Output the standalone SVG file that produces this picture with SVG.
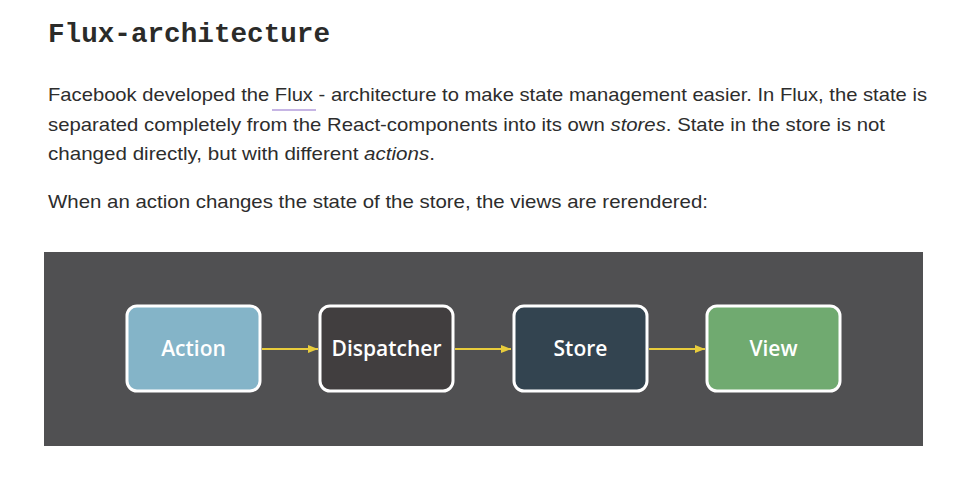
<svg xmlns="http://www.w3.org/2000/svg" width="972" height="484" viewBox="0 0 972 484">
<defs>
<style>
.title{font-family:"Liberation Mono","DejaVu Sans Mono",monospace;font-weight:bold;font-size:27px;fill:#2b2b29}
.body{font-family:"Liberation Sans","Noto Sans",sans-serif;font-size:19px;fill:#2d2d2d}
.it{font-style:italic}
.box{stroke:#ffffff;stroke-width:3}
.lbl{font-family:"Open Sans","Noto Sans",sans-serif;font-weight:600;font-size:21px;fill:#ffffff;text-anchor:middle}
.conn{stroke:#e8cc3c;stroke-width:2;fill:none}
</style>
<marker id="ah" viewBox="0 0 10 10" refX="10" refY="5" markerWidth="10" markerHeight="10" markerUnits="userSpaceOnUse" orient="auto">
<path d="M0,1 L10,5 L0,9 z" fill="#e8cc3c"/>
</marker>
</defs>
<rect width="972" height="484" fill="#ffffff"/>
<text class="title" x="48" y="42" textLength="282" lengthAdjust="spacingAndGlyphs">Flux-architecture</text>
<text class="body" x="48" y="101" textLength="879" lengthAdjust="spacingAndGlyphs">Facebook developed the  Flux - architecture to make state management easier. In Flux, the state is</text>
<line x1="272" y1="110" x2="316" y2="110" stroke="#b39ddb" stroke-width="1.5"/>
<text class="body" x="48" y="131" textLength="837" lengthAdjust="spacingAndGlyphs">separated completely from the React-components into its own <tspan class="it">stores</tspan>. State in the store is not</text>
<text class="body" x="48" y="160" textLength="387" lengthAdjust="spacingAndGlyphs">changed directly, but with different <tspan class="it">actions</tspan>.</text>
<text class="body" x="48" y="208" textLength="660" lengthAdjust="spacingAndGlyphs">When an action changes the state of the store, the views are rerendered:</text>
<rect x="44" y="252" width="879" height="194" fill="#505052"/>
<g id="connectors">
<line class="conn" x1="262" y1="349" x2="318" y2="349" marker-end="url(#ah)"/>
<line class="conn" x1="455" y1="349" x2="511" y2="349" marker-end="url(#ah)"/>
<line class="conn" x1="649" y1="349" x2="705" y2="349" marker-end="url(#ah)"/>
</g>
<g id="action">
<rect class="box" x="127" y="306" width="133" height="85" rx="10" fill="#84b4c8"/>
<text class="lbl" x="193.5" y="356">Action</text>
</g>
<g id="dispatcher">
<rect class="box" x="320" y="306" width="133" height="85" rx="10" fill="#413e3f"/>
<text class="lbl" x="386.5" y="356">Dispatcher</text>
</g>
<g id="store">
<rect class="box" x="514" y="306" width="133" height="85" rx="10" fill="#334450"/>
<text class="lbl" x="580.5" y="356">Store</text>
</g>
<g id="view">
<rect class="box" x="707" y="306" width="133" height="85" rx="10" fill="#70aa70"/>
<text class="lbl" x="773.5" y="356">View</text>
</g>
</svg>
